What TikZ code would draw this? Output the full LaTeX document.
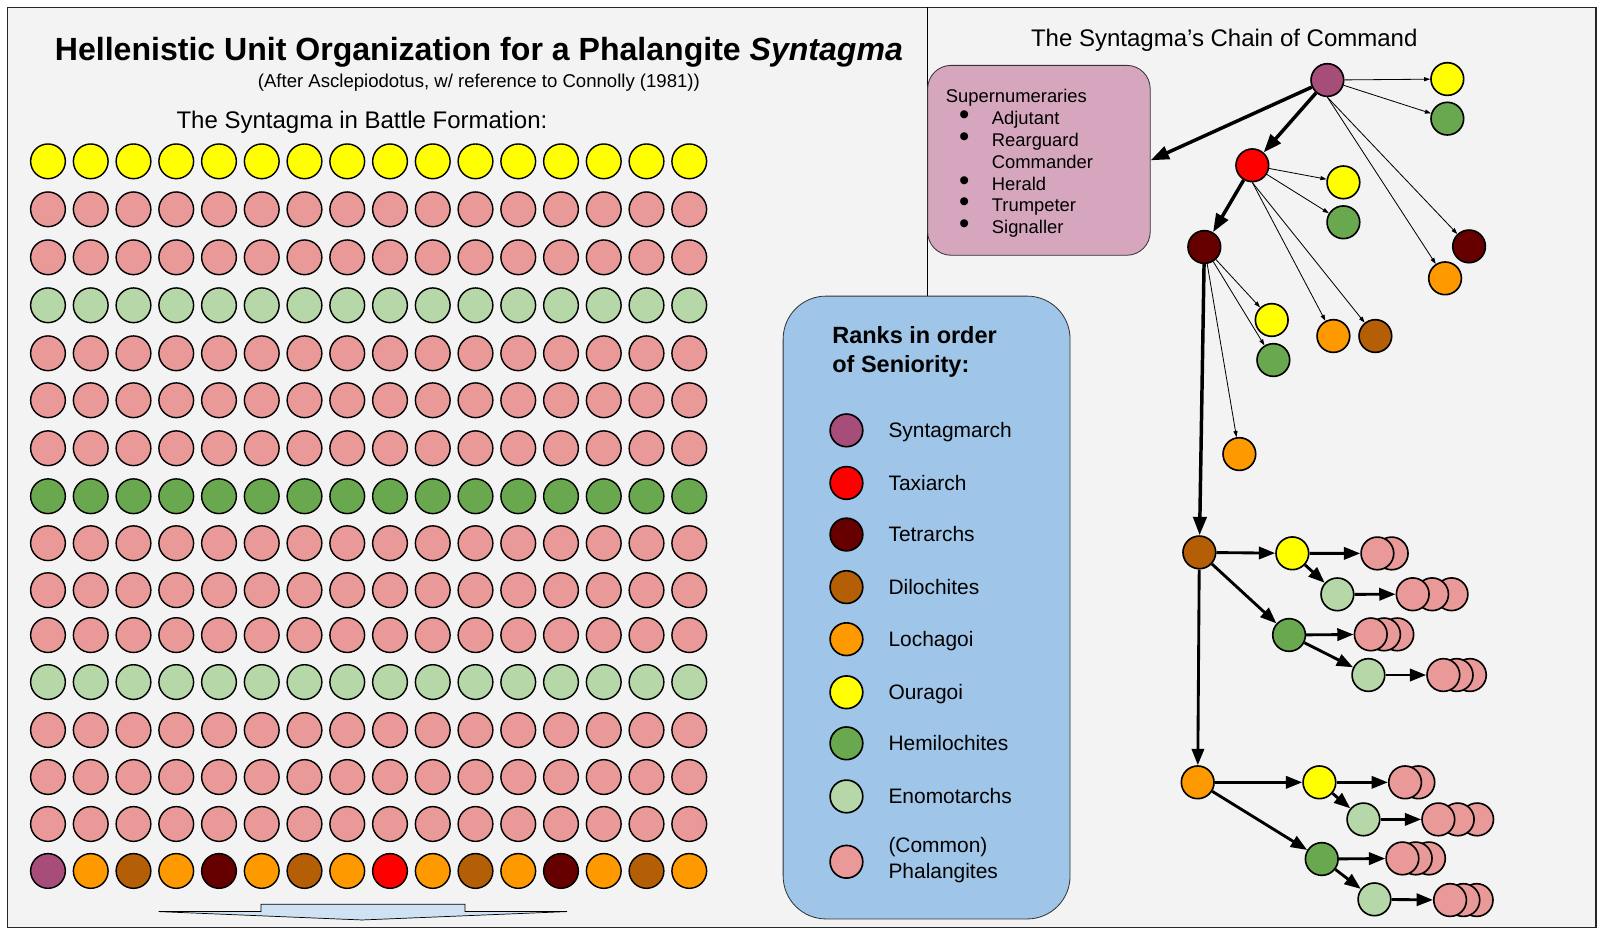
\documentclass[tikz,border=0pt]{standalone}
\usepackage{fontspec}
\setmainfont{Liberation Sans}
\usepackage{xcolor}
\usetikzlibrary{
	positioning,    % posizionamento relativo
	arrows.meta     % punte di freccia (Triangle)
}
% --- Colori dei gradi ---
\definecolor{sfondo}{HTML}{F3F3F3}
\definecolor{syntag}{HTML}{A64D79}
\definecolor{taxi}{HTML}{FF0000}
\definecolor{tetra}{HTML}{660000}
\definecolor{diloc}{HTML}{B45F06}
\definecolor{locha}{HTML}{FF9900}
\definecolor{oura}{HTML}{FFFF00}
\definecolor{hemi}{HTML}{6AA84F}
\definecolor{enomo}{HTML}{B6D7A8}
\definecolor{falang}{HTML}{EA9999}
\definecolor{legcol}{HTML}{9FC5E8}
\definecolor{supercol}{HTML}{D5A6BD}
\definecolor{frecciacol}{HTML}{CFE2F3}

\begin{document}
\begin{tikzpicture}[x=1pt, y=-1pt, >=latex,
		soldato/.style={circle, draw=black, line width=1.4pt, minimum size=34pt, inner sep=0pt},
		grado/.style={circle, draw=black, line width=1.6pt, minimum size=32pt, inner sep=0pt},
		capo/.style={line width=3.4pt, -{Triangle[length=18pt, width=13pt]}},
		ramo/.style={line width=2.8pt, -{Triangle[length=16pt, width=12pt]}},
		filo/.style={line width=0.8pt, -{Triangle[length=6pt, width=4pt]}},
		testo/.style={inner sep=0pt, anchor=base},
		legfont/.style={font=\fontsize{20.5}{25}\selectfont, inner sep=0pt, anchor=base west}]
		% Parametri della griglia della falange
		\def\Xzero{47}  % ascissa della prima colonna
		\def\dX{41.87}  % passo fra le colonne
		
		% --- Cornice ---
		\useasboundingbox (0,0) rectangle (1568,910);
		\fill[white] (0,0) rectangle (1568,910);
		\draw[fill=sfondo, line width=1.2pt, draw=black!85] (7.5,7) rectangle (1563,908.5);
		\draw[line width=0.8pt] (908,7) -- (908,290);
		
		% --- Titoli ---
		\node[testo, font=\fontsize{31.4}{36}\selectfont\bfseries] (titolo) at (469,59)
		{Hellenistic Unit Organization for a Phalangite \textit{Syntagma}};
		\node[testo, font=\fontsize{18.2}{22}\selectfont] (sottotitolo) at (469,85.5)
		{(After Asclepiodotus, w/ reference to Connolly (1981))};
		\node[testo, font=\fontsize{23.5}{28}\selectfont] (formazione) at (354.5,125.7)
		{The Syntagma in Battle Formation:};
		\node[testo, font=\fontsize{23.5}{28}\selectfont] (catena) at (1199,45.7)
		{The Syntagma’s Chain of Command};
		
		% --- Formazione di battaglia ---
		\foreach \r/\y/\col in {1/158/oura,2/205/falang,3/252/falang,4/299/enomo,5/346/falang,
			6/392/falang,7/439/falang,8/486/hemi,9/532/falang,10/578/falang,11/622/falang,
			12/668/enomo,13/715/falang,14/761/falang,15/807/falang}
		\foreach \c in {1,...,16}
		\node[soldato, fill=\col] (f-\r-\c) at ({\Xzero+\dX*(\c-1)}, \y) {};
		% Prima linea: gli ufficiali
		\foreach \col [count=\c] in {syntag,locha,diloc,locha,tetra,locha,diloc,locha,
			taxi,locha,diloc,locha,tetra,locha,diloc,locha}
		\node[soldato, fill=\col] (f-16-\c) at ({\Xzero+\dX*(\c-1)}, 853) {};
		% Freccia della direzione di marcia
		\draw[fill=frecciacol, line width=0.7pt] (255.6,885.6) -- (455.4,885.6) -- (455.4,892.8)
		-- (555.3,892.8) -- (354.6,901) -- (155.4,892.8) -- (255.6,892.8) -- cycle;
		
		% --- Legenda ---
		\node[draw=black!80, line width=0.8pt, fill=legcol, rounded corners=42pt,
		minimum width=281pt, minimum height=610pt] (legenda) at (907.5,595) {};
		\node[inner sep=0pt, anchor=base west, align=left,
		font=\fontsize{23}{28.7}\selectfont\bfseries] (ranghi) at (815,365)
		{Ranks in order\\of Seniority:};
		\foreach \col/\y/\nome [count=\i] in {syntag/421.5/Syntagmarch, taxi/473/Taxiarch,
			tetra/523.5/Tetrarchs, diloc/575/Dilochites, locha/626/Lochagoi, oura/678/Ouragoi,
			hemi/728/Hemilochites, enomo/780/Enomotarchs}
		{
			\node[grado, fill=\col] (g\i) at (829,\y) {};
			\node[legfont] (t\i) at (870,{\y+7.3}) {\nome};
		}
		\node[grado, fill=falang] (g9) at (829,844) {};
		\node[legfont, align=left] (t9) at (870,860.3) {(Common)\\Phalangites};
		
		% --- Sovrannumerari ---
		\node[draw=black!80, line width=0.8pt, fill=supercol, rounded corners=23pt,
		minimum width=218pt, minimum height=186pt] (super) at (1017.5,157) {};
		\node[inner sep=0pt, anchor=base west, font=\fontsize{18}{21.4}\selectfont] (superlista) at (926.2,100.6)
		{\begin{tabular}[t]{@{\hspace{13pt}}l@{\hspace{22pt}}l@{}}
				\multicolumn{2}{@{}l}{Supernumeraries}\\
				\scalebox{1.6}{\textbullet} & Adjutant\\
				\scalebox{1.6}{\textbullet} & Rearguard\\
				& Commander\\
				\scalebox{1.6}{\textbullet} & Herald\\
				\scalebox{1.6}{\textbullet} & Trumpeter\\
				\scalebox{1.6}{\textbullet} & Signaller
		\end{tabular}};
		
		% --- Catena di comando: ufficiali superiori ---
		\node[grado, fill=syntag] (syn) at (1300,78.4) {};
		\node[grado, fill=oura] (our1) at (1417.5,77.4) {};
		\node[grado, fill=hemi] (hem1) at (1417.5,116.2) {};
		\node[grado, fill=taxi] (tax) at (1226.5,161.9) {};
		\node[grado, fill=oura] (our2) at (1315.7,178.6) {};
		\node[grado, fill=hemi] (hem2) at (1315.7,217.7) {};
		\node[grado, fill=tetra] (tetA) at (1179.5,241.9) {};
		\node[grado, fill=tetra] (tetB) at (1438.8,241.3) {};
		\node[grado, fill=locha] (loc1) at (1415.3,272.6) {};
		\node[grado, fill=oura] (our3) at (1245.5,313.4) {};
		\node[grado, fill=hemi] (hem3) at (1247.1,352.6) {};
		\node[grado, fill=locha] (loc2) at (1305.9,329.1) {};
		\node[grado, fill=diloc] (dil1) at (1347,329.1) {};
		\node[grado, fill=locha] (loc3) at (1213.8,444.7) {};
		
		% --- Catena di comando: file ---
		\node[grado, fill=diloc] (dil) at (1174.6,541) {};
		\node[grado, fill=oura] (our4) at (1265.7,541.9) {};
		\node[grado, fill=enomo] (eno1) at (1309.8,582.1) {};
		\node[grado, fill=hemi] (hem4) at (1262.5,621.9) {};
		\node[grado, fill=enomo] (eno2) at (1340.2,661.1) {};
		\node[grado, fill=locha] (loc) at (1173,766.2) {};
		\node[grado, fill=oura] (our5) at (1292.2,766.2) {};
		\node[grado, fill=enomo] (eno3) at (1335.3,802.5) {};
		\node[grado, fill=hemi] (hem5) at (1294.5,841.3) {};
		\node[grado, fill=enomo] (eno4) at (1346.1,880.8) {};
		% Gruppi di falangiti (il primo sta davanti)
		\foreach \nome/\x/\y/\n/\d in {pA/1349/542/2/14, pB/1383.6/582/3/19, pC/1342.5/621.3/3/13,
			pD/1413.6/661.1/3/13, pE/1376.1/766.2/2/13, pF/1408.7/802.5/3/19,
			pG/1373.5/840.7/3/13, pH/1420.2/881.5/3/13}
		{
			\foreach \k in {\n,...,2}
			\node[grado, fill=falang] at ({\x+\d*(\k-1)},\y) {};
			\node[grado, fill=falang] (\nome) at (\x,\y) {};
		}
		
		% --- Frecce ---
		\draw[capo] (syn) -- (super.east);
		\draw[capo] (syn) -- (tax);
		\draw[capo] (tax) -- (tetA);
		\draw[capo] (tetA) -- (dil);
		\draw[filo] (syn) -- (our1);
		\draw[filo] (syn) -- (hem1);
		\draw[filo] (syn.south) -- (tetB);
		\draw[filo] (syn.south) -- (loc1);
		\draw[filo] (tax) -- (our2);
		\draw[filo] (tax) -- (hem2);
		\draw[filo] (tax.south) -- (loc2);
		\draw[filo] (tax.south) -- (dil1);
		\draw[filo] (tetA) -- (our3);
		\draw[filo] (tetA) -- (hem3);
		\draw[filo] (tetA) -- (loc3);
		% rami inferiori
		\draw[ramo] (dil) -- (loc);
		\draw[ramo] (dil) -- (our4);
		\draw[ramo] (dil) -- (hem4);
		\draw[ramo] (our4) -- (eno1);
		\draw[ramo] (our4) -- (pA);
		\draw[ramo] (eno1) -- (pB);
		\draw[ramo] (hem4) -- (pC);
		\draw[ramo] (hem4) -- (eno2);
		\draw[ramo] (eno2) -- (pD);
		\draw[ramo] (loc) -- (our5);
		\draw[ramo] (loc) -- (hem5);
		\draw[ramo] (our5) -- (eno3);
		\draw[ramo] (our5) -- (pE);
		\draw[ramo] (eno3) -- (pF);
		\draw[ramo] (hem5) -- (pG);
		\draw[ramo] (hem5) -- (eno4);
		\draw[ramo] (eno4) -- (pH);
	\end{tikzpicture}
\end{document}
